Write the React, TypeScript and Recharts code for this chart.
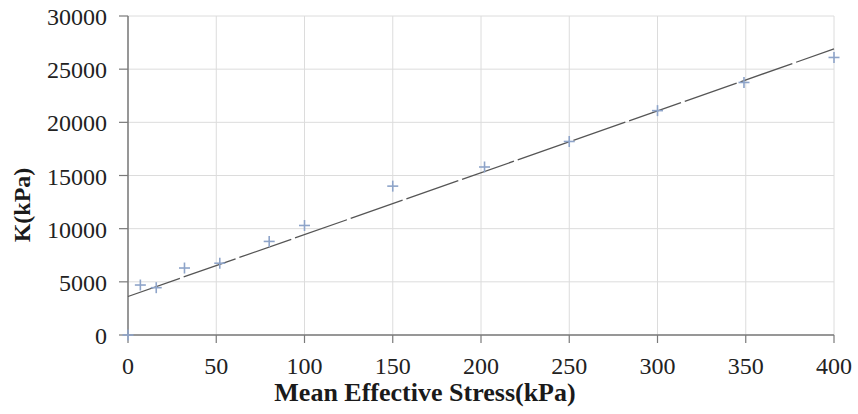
import React from "react";
import {
  CartesianGrid,
  Scatter,
  ScatterChart,
  XAxis,
  YAxis,
} from "recharts";

// measured points: mean effective stress (kPa) vs K (kPa)
const stress = [0, 7, 16, 32, 52, 80, 100, 150, 202, 250, 300, 349, 400];
const kValues = [
  0, 4700, 4450, 6300, 6750, 8800, 10300, 14000, 15800, 18200, 21100, 23750,
  26100,
];

// linear trend line end points
const trendStress = [0, 400];
const trendK = [3620, 26900];

const xTicks = [0, 50, 100, 150, 200, 250, 300, 350, 400];
const yTicks = [0, 5000, 10000, 15000, 20000, 25000, 30000];

const points = stress.map((x, i) => ({ x, y: kValues[i] }));
const trend = trendStress.map((x, i) => ({ x, y: trendK[i] }));

const FONT = "Liberation Serif, Times New Roman, serif";
const POINT_COLOR = "#8ea4c9";

const Cross = (props: { cx?: number; cy?: number }) => {
  const { cx = 0, cy = 0 } = props;
  const r = 5.5;
  return (
    <g stroke={POINT_COLOR} strokeWidth={1.6}>
      <line x1={cx - r} y1={cy} x2={cx + r} y2={cy} />
      <line x1={cx} y1={cy - r} x2={cx} y2={cy + r} />
    </g>
  );
};

const NoShape = () => <g />;

type TickProps = { x?: number; y?: number; payload?: { value: number } };

const XTick = ({ x = 0, y = 0, payload }: TickProps) => (
  <text
    x={x}
    y={y + 27}
    textAnchor="middle"
    fontFamily={FONT}
    fontSize={24}
    fill="#222"
  >
    {payload?.value}
  </text>
);

const YTick = ({ x = 0, y = 0, payload }: TickProps) => (
  <text
    x={x}
    y={y + 9}
    textAnchor="end"
    fontFamily={FONT}
    fontSize={24}
    fill="#222"
  >
    {payload?.value}
  </text>
);

const XLabel = ({ viewBox }: { viewBox?: { x: number; y: number } }) => {
  const vb = viewBox || { x: 0, y: 0 };
  return (
    <text
      x={vb.x + 297}
      y={vb.y + 66}
      textAnchor="middle"
      fontFamily={FONT}
      fontWeight="bold"
      fontSize={26}
      fill="#1a1a1a"
    >
      Mean Effective Stress(kPa)
    </text>
  );
};

const YLabel = () => (
  <text
    x={0}
    y={0}
    transform="translate(30,205) rotate(-90)"
    textAnchor="middle"
    fontFamily={FONT}
    fontWeight="bold"
    fontSize={24}
    fill="#1a1a1a"
  >
    K(kPa)
  </text>
);

export default function App() {
  return (
    <div
      style={{
        position: "absolute",
        left: 0,
        top: 0,
        background: "#fff",
        fontFamily: FONT,
      }}
    >
      <ScatterChart
        width={858}
        height={414}
        margin={{ top: 16, right: 24, left: 0, bottom: 0 }}
      >
        <CartesianGrid stroke="#dcdcdc" strokeWidth={1} />
        <XAxis
          type="number"
          dataKey="x"
          domain={[0, 400]}
          ticks={xTicks}
          interval={0}
          height={79}
          tickSize={8}
          tickMargin={4}
          axisLine={{ stroke: "#7a7a7a", strokeWidth: 1.5 }}
          tickLine={{ stroke: "#7a7a7a", strokeWidth: 1.2 }}
          tick={<XTick />}
          label={<XLabel />}
        />
        <YAxis
          type="number"
          dataKey="y"
          domain={[0, 30000]}
          ticks={yTicks}
          interval={0}
          width={128}
          tickSize={9}
          tickMargin={12}
          axisLine={{ stroke: "#7a7a7a", strokeWidth: 1.5 }}
          tickLine={{ stroke: "#7a7a7a", strokeWidth: 1.2 }}
          tick={<YTick />}
          label={<YLabel />}
        />
        <Scatter
          data={trend}
          line={{ stroke: "#555", strokeWidth: 1.3, strokeDasharray: "55 4" }}
          shape={<NoShape />}
          isAnimationActive={false}
        />
        <Scatter
          data={points}
          shape={<Cross />}
          isAnimationActive={false}
        />
      </ScatterChart>
    </div>
  );
}
